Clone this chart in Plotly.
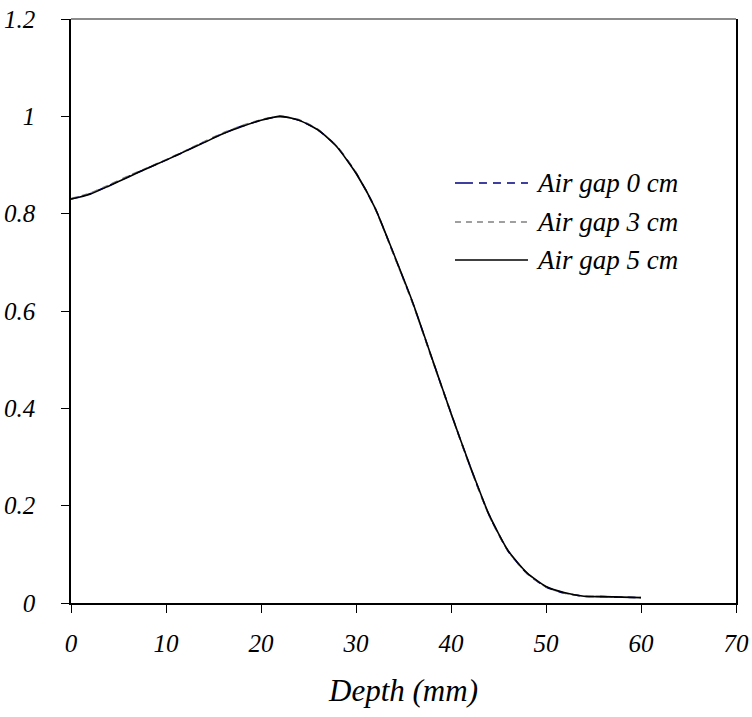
import plotly.graph_objects as go

depth = [0, 2, 4, 6, 8, 10, 12, 14, 16, 18, 20, 22, 24, 26, 28, 30,
         32, 34, 36, 38, 40, 42, 44, 46, 48, 50, 52, 54, 56, 58, 60]

dose_gap0 = [0.830, 0.841, 0.858, 0.876, 0.893, 0.910, 0.928, 0.947, 0.965, 0.980, 0.992,
             1.000, 0.992, 0.972, 0.938, 0.884, 0.812, 0.715, 0.615, 0.502, 0.390, 0.281,
             0.181, 0.107, 0.061, 0.033, 0.020, 0.014, 0.013, 0.012, 0.011]
dose_gap3 = [0.831, 0.842, 0.859, 0.877, 0.894, 0.911, 0.929, 0.948, 0.966, 0.981, 0.993,
             1.000, 0.993, 0.973, 0.938, 0.884, 0.811, 0.714, 0.614, 0.501, 0.389, 0.280,
             0.180, 0.107, 0.061, 0.033, 0.020, 0.014, 0.013, 0.012, 0.011]
dose_gap5 = [0.830, 0.840, 0.857, 0.875, 0.893, 0.910, 0.928, 0.946, 0.964, 0.979, 0.992,
             1.000, 0.992, 0.972, 0.937, 0.883, 0.812, 0.716, 0.616, 0.503, 0.390, 0.282,
             0.182, 0.108, 0.062, 0.034, 0.021, 0.014, 0.013, 0.012, 0.011]

names = ["Air gap 0 cm", "Air gap 3 cm", "Air gap 5 cm"]
colors = ["#000080", "#808080", "#000000"]
dashes = ["18px,6px,8px,6px,8px,6px,8px,6px", "6px,5px", "solid"]

x_ticks = [0, 10, 20, 30, 40, 50, 60, 70]
y_ticks = [0, 0.2, 0.4, 0.6, 0.8, 1.0, 1.2]

FONT = "Times New Roman, Liberation Serif, serif"

fig = go.Figure()
# draw order: navy dashed first, grey dashed, solid black on top
for ys, nm, col, ds in [(dose_gap0, names[0], colors[0], "8px,6px"),
                        (dose_gap3, names[1], colors[1], dashes[1]),
                        (dose_gap5, names[2], colors[2], dashes[2])]:
    fig.add_trace(go.Scatter(x=depth, y=ys, name=nm, mode="lines",
                             line=dict(color=col, width=1.6, dash=ds, shape="spline", smoothing=0.6),
                             showlegend=False))

# manual legend (Excel-style long line samples)
leg_y = [0.7192, 0.6524, 0.5873]
for i in range(3):
    fig.add_shape(type="line", xref="paper", yref="paper",
                  x0=0.5774, x1=0.6872, y0=leg_y[i], y1=leg_y[i],
                  line=dict(color=colors[i], width=1.3, dash=dashes[i]))
    fig.add_annotation(xref="paper", yref="paper", x=0.6962, y=leg_y[i],
                       xanchor="left", yanchor="middle", showarrow=False,
                       text=names[i],
                       font=dict(family=FONT, size=27, style="italic", color="black"))

# grey top border
fig.add_shape(type="line", xref="paper", yref="paper", x0=0, x1=1, y0=1, y1=1,
              line=dict(color="#666666", width=1.5))

fig.update_layout(
    width=752, height=717,
    margin=dict(l=71, r=16, t=19, b=114, autoexpand=False),
    paper_bgcolor="white", plot_bgcolor="white",
    showlegend=False,
)
fig.update_xaxes(range=[0, 70], tickvals=x_ticks, ticks="outside", ticklen=8,
                 tickcolor="black", tickwidth=1, automargin=False,
                 showline=True, linecolor="black", linewidth=1.5, mirror=False,
                 showgrid=False, zeroline=False,
                 tickfont=dict(family=FONT, size=25, style="italic", color="black"),
                 ticklabelstandoff=9,
                 title=dict(text="Depth (mm)", standoff=24,
                            font=dict(family=FONT, size=31, style="italic", color="black")))
fig.update_yaxes(range=[0, 1.2], tickvals=y_ticks, ticks="outside", ticklen=8,
                 tickcolor="black", tickwidth=1, automargin=False,
                 showline=True, linecolor="black", linewidth=1.5, mirror=True,
                 showgrid=False, zeroline=False,
                 tickfont=dict(family=FONT, size=25, style="italic", color="black"),
                 ticklabelstandoff=21)

fig.write_html("out.html")
